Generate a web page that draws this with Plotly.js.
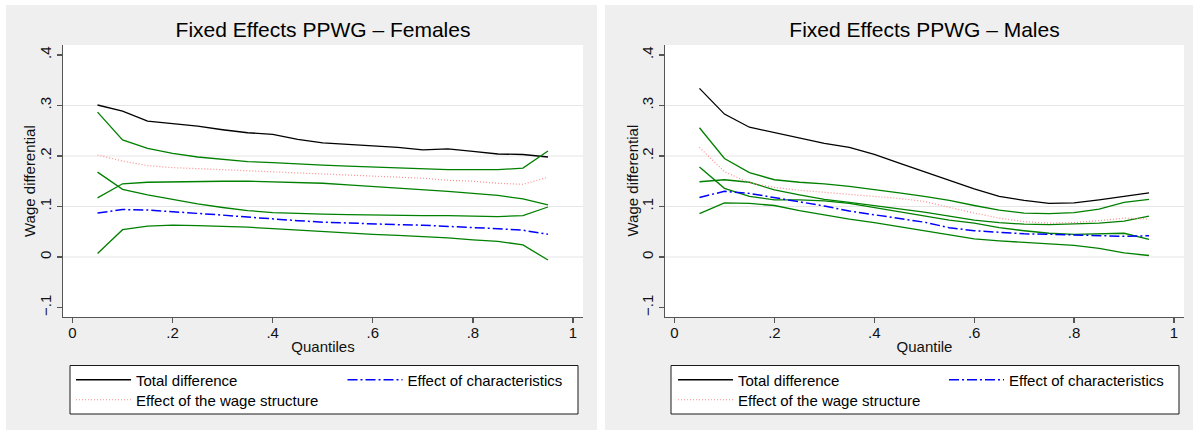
<!DOCTYPE html>
<html>
<head>
<meta charset="utf-8">
<script src="https://cdn.plot.ly/plotly-3.0.1.min.js"></script>
<style>
  html, body { margin:0; padding:0; background:#ffffff; width:1193px; height:432px; overflow:hidden; }
  #left { position:absolute; left:6px; top:5px; width:591px; height:425px; }
  #right { position:absolute; left:605px; top:5px; width:588px; height:425px; }
</style>
</head>
<body>
<div id="left"></div>
<div id="right"></div>
<script>
// ---------- data ----------
const quantiles = [0.05,0.10,0.15,0.20,0.25,0.30,0.35,0.40,0.45,0.50,0.55,0.60,0.65,0.70,0.75,0.80,0.85,0.90,0.95];

// Females
const femTotal     = [0.301,0.289,0.269,0.264,0.259,0.252,0.246,0.243,0.233,0.226,0.223,0.219,0.217,0.212,0.214,0.209,0.204,0.203,0.198];
const femWageUpper = [0.287,0.232,0.215,0.205,0.198,0.193,0.189,0.187,0.184,0.182,0.180,0.178,0.176,0.174,0.173,0.173,0.173,0.176,0.210];
const femWage      = [0.202,0.190,0.181,0.177,0.175,0.173,0.171,0.169,0.167,0.165,0.163,0.161,0.159,0.156,0.152,0.150,0.146,0.144,0.158];
const femWageLower = [0.117,0.145,0.148,0.149,0.150,0.150,0.150,0.149,0.148,0.146,0.143,0.140,0.137,0.134,0.130,0.126,0.122,0.115,0.103];
const femCharUpper = [0.168,0.134,0.123,0.114,0.105,0.098,0.092,0.088,0.086,0.085,0.084,0.083,0.082,0.082,0.082,0.081,0.080,0.082,0.099];
const femChar      = [0.087,0.094,0.093,0.090,0.087,0.083,0.079,0.075,0.072,0.069,0.067,0.065,0.064,0.063,0.061,0.059,0.056,0.053,0.045];
const femCharLower = [0.007,0.054,0.061,0.063,0.062,0.061,0.059,0.056,0.053,0.051,0.048,0.045,0.043,0.041,0.038,0.034,0.031,0.024,-0.006];

// Males
const malTotal     = [0.334,0.283,0.257,0.246,0.235,0.225,0.217,0.203,0.186,0.169,0.151,0.135,0.120,0.112,0.106,0.107,0.113,0.120,0.127];
const malWageUpper = [0.256,0.195,0.167,0.153,0.148,0.145,0.140,0.134,0.127,0.120,0.112,0.102,0.093,0.087,0.086,0.088,0.095,0.108,0.114];
const malWage      = [0.217,0.169,0.147,0.138,0.132,0.128,0.124,0.121,0.116,0.110,0.098,0.087,0.077,0.070,0.067,0.068,0.072,0.077,0.075];
const malWageLower = [0.178,0.136,0.120,0.113,0.113,0.111,0.106,0.098,0.090,0.081,0.073,0.067,0.058,0.052,0.047,0.045,0.046,0.047,0.035];
const malCharUpper = [0.149,0.153,0.148,0.133,0.123,0.114,0.108,0.102,0.096,0.089,0.081,0.073,0.068,0.065,0.064,0.065,0.067,0.071,0.081];
const malChar      = [0.118,0.130,0.126,0.118,0.110,0.101,0.091,0.084,0.077,0.069,0.058,0.052,0.049,0.046,0.045,0.044,0.043,0.041,0.042];
const malCharLower = [0.086,0.107,0.106,0.102,0.092,0.083,0.075,0.068,0.060,0.051,0.043,0.036,0.032,0.029,0.026,0.023,0.017,0.008,0.003];

// ticks / labels
const xTickVals = [0, 0.2, 0.4, 0.6, 0.8, 1];
const xTickText = ["0", ".2", ".4", ".6", ".8", "1"];
const yTickVals = [-0.1, 0, 0.1, 0.2, 0.3, 0.4];
const yTickText = ["\u2212.1", "0", ".1", ".2", ".3", ".4"];
const gridVals  = [0, 0.1, 0.2, 0.3];
const seriesNames = ["Total difference", "Effect of characteristics", "Effect of the wage structure"];
const yTitle = "Wage differential";

// ---------- drawing ----------
const FONT = "Liberation Sans, Arial, Helvetica, sans-serif";
const BG = "#efefef";

function buildPanel(divId, cfg) {
  const green = {color: "#008000", width: 1.3};
  const traces = [
    {x: quantiles, y: cfg.total, name: seriesNames[0], mode: "lines", line: {color: "#000000", width: 1.3}, legend: "legend"},
    {x: quantiles, y: cfg.wageUp, mode: "lines", line: green, showlegend: false},
    {x: quantiles, y: cfg.wageLo, mode: "lines", line: green, showlegend: false},
    {x: quantiles, y: cfg.charUp, mode: "lines", line: green, showlegend: false},
    {x: quantiles, y: cfg.charLo, mode: "lines", line: green, showlegend: false},
    {x: quantiles, y: cfg.wage, name: seriesNames[2], mode: "lines", line: {color: "#ff8c8c", width: 1.2, dash: "1px,2px"}, legend: "legend3"},
    {x: quantiles, y: cfg.char, name: seriesNames[1], mode: "lines", line: {color: "#0000ff", width: 1.5, dash: "10px,3px,2px,3px"}, legend: "legend2"}
  ];
  const W = cfg.width, H = 425, l = cfg.l, r = cfg.r, t = 40, b = 113;
  const pw = W - l - r, ph = H - t - b;
  const px = v => (v - l) / pw;           // div px -> paper x
  const py = v => (H - b - v) / ph;       // div px -> paper y
  const legCommon = {
    orientation: "v", xanchor: "left", yanchor: "middle",
    bgcolor: "rgba(0,0,0,0)", borderwidth: 0, itemwidth: 55,
    font: {family: FONT, size: 15, color: "#000"}, itemclick: false, itemdoubleclick: false
  };
  const shapes = gridVals.map(g => ({
    type: "line", xref: "paper", x0: 0, x1: 1, yref: "y", y0: g, y1: g,
    line: {color: "#e6e6e6", width: 1.2}, layer: "below"
  }));
  shapes.push({
    type: "rect", xref: "paper", yref: "paper",
    x0: px(cfg.boxL), x1: px(cfg.boxR), y0: py(409), y1: py(360.5),
    line: {color: "#1a1a1a", width: 1}, fillcolor: "#ffffff", layer: "below"
  });
  const layout = {
    width: W, height: H,
    margin: {l: l, r: r, t: t, b: b, pad: 0},
    paper_bgcolor: BG, plot_bgcolor: "#ffffff",
    font: {family: FONT, size: 15, color: "#000"},
    title: {text: cfg.title, x: 0.5, xref: "paper", xanchor: "center", y: 1 - 24.5 / H, yref: "container", yanchor: "middle",
            font: {family: FONT, size: 21, color: "#000"}},
    xaxis: {
      range: [-0.019, 1.02], tickvals: xTickVals, ticktext: xTickText,
      showgrid: false, zeroline: false, showline: true, linecolor: "#555", linewidth: 1.3,
      ticks: "outside", ticklen: 5, tickcolor: "#555", tickwidth: 1.3, ticklabelstandoff: -3,
      tickfont: {family: FONT, size: 15, color: "#111"},
      title: {text: cfg.xtitle, standoff: 1, font: {family: FONT, size: 15, color: "#111"}},
      fixedrange: true
    },
    yaxis: {
      range: [-0.1188, 0.4198], tickvals: yTickVals, ticktext: yTickText, tickangle: -90,
      showgrid: false, zeroline: false, showline: true, linecolor: "#555", linewidth: 1.3,
      ticks: "outside", ticklen: 5, tickcolor: "#555", tickwidth: 1.3,
      tickfont: {family: FONT, size: 15, color: "#111"},
      fixedrange: true
    },
    annotations: [{
      text: yTitle, textangle: -90, xref: "paper", yref: "paper",
      x: px(cfg.ytitleX), y: 0.5, xanchor: "center", yanchor: "middle", showarrow: false,
      font: {family: FONT, size: 15, color: "#111"}
    }],
    shapes: shapes,
    legend:  Object.assign({}, legCommon, {x: px(cfg.leg1X), y: py(375)}),
    legend2: Object.assign({}, legCommon, {x: px(cfg.leg2X), y: py(375)}),
    legend3: Object.assign({}, legCommon, {x: px(cfg.leg1X), y: py(395)}),
    showlegend: true
  };
  Plotly.newPlot(divId, traces, layout, {staticPlot: true, displayModeBar: false});
}

buildPanel("left", {
  width: 591, l: 57, r: 14,
  title: "Fixed Effects PPWG \u2013 Females", xtitle: "Quantiles",
  total: femTotal, wage: femWage, wageUp: femWageUpper, wageLo: femWageLower,
  char: femChar, charUp: femCharUpper, charLo: femCharLower,
  boxL: 64, boxR: 572, leg1X: 65, leg2X: 336.5, ytitleX: 23
});
buildPanel("right", {
  width: 588, l: 60, r: 9,
  title: "Fixed Effects PPWG \u2013 Males", xtitle: "Quantile",
  total: malTotal, wage: malWage, wageUp: malWageUpper, wageLo: malWageLower,
  char: malChar, charUp: malCharUpper, charLo: malCharLower,
  boxL: 66, boxR: 574, leg1X: 68, leg2X: 339, ytitleX: 26.5
});
</script>
</body>
</html>
